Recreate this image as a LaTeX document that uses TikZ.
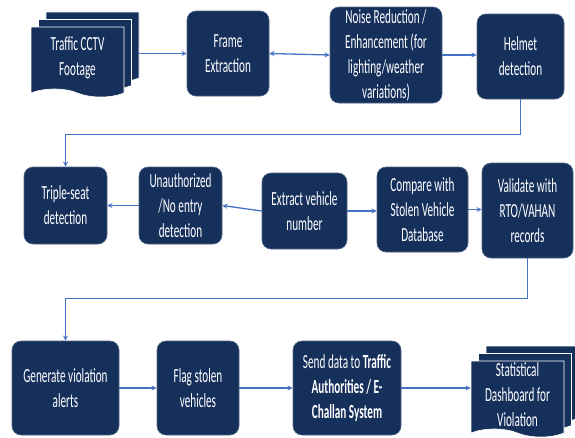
\documentclass[tikz,border=0pt]{standalone}
\usepackage{fontspec}
\setmainfont{Carlito}[FakeStretch=0.56]
\usetikzlibrary{shapes.symbols,shadows}
\definecolor{navy}{RGB}{22,48,92}
\definecolor{linkblue}{RGB}{68,114,196}

\begin{document}
\begin{tikzpicture}[
	x=1pt, y=-1pt,
	every node/.style={font=\fontsize{20}{25}\selectfont},
	procbox/.style={rectangle, rounded corners=9pt, fill=navy, draw=navy!75!white, line width=0.6pt, text=white, align=center, inner sep=0pt},
	docstack/.style={tape, tape bend top=none, tape bend bottom=out and in, tape bend height=8pt, fill=navy, draw=white, line width=0.6pt, text=white, align=center, inner sep=0pt,
		copy shadow={shadow xshift=15pt, shadow yshift=15pt, fill=navy, draw=white},
		copy shadow={shadow xshift=7.5pt, shadow yshift=7.5pt, fill=navy, draw=white}}
]
\useasboundingbox (0,0) rectangle (575,437);
\node[docstack, minimum width=93pt, minimum height=70pt] (cctv) at (77.5,58) {Traffic CCTV\\Footage};
\node[procbox, minimum width=82pt, minimum height=85pt] (frame) at (228,53.5) {Frame\\Extraction};
\node[procbox, minimum width=112pt, minimum height=96pt] (noise) at (386,55) {Noise Reduction /\\Enhancement (for\\lighting/weather\\variations)};
\node[procbox, minimum width=87pt, minimum height=85pt] (helmet) at (520.5,56.5) {Helmet\\detection};
\node[procbox, minimum width=83pt, minimum height=77pt] (triple) at (65.5,205.5) {Triple-seat\\detection};
\node[procbox, minimum width=83pt, minimum height=77pt] (unauth) at (180.5,205.5) {Unauthorized\\/No entry\\detection};
\node[procbox, minimum width=85pt, minimum height=76pt] (extract) at (304.5,211) {Extract vehicle\\number};
\node[procbox, minimum width=91pt, minimum height=85pt] (compare) at (422.5,209.5) {Compare with\\Stolen Vehicle\\Database};
\node[procbox, minimum width=91pt, minimum height=95pt] (validate) at (527.5,210.5) {Validate with\\RTO/VAHAN\\records};
\node[procbox, minimum width=107pt, minimum height=94pt] (generate) at (65.5,388) {Generate violation\\alerts};
\node[procbox, minimum width=82pt, minimum height=94pt] (flag) at (198,388) {Flag stolen\\vehicles};
\node[procbox, minimum width=108pt, minimum height=94pt] (send) at (347,388) {Send data to \textbf{Traffic}\\\textbf{Authorities / E-}\\\textbf{Challan System}};
\node[docstack, minimum width=93pt, minimum height=76pt] (stats) at (517.5,395) {Statistical\\Dashboard for\\Violation};
\begin{scope}[linkblue, line width=1.3pt, -stealth]
\draw[shorten <=15pt] (cctv.east |- frame.west) -- (frame.west);
\draw[stealth-stealth] (frame.east) -- (noise.west);
\draw (noise.east) -- (noise.east -| helmet.west);
\draw (helmet.south) -- ++(0,35) -| (triple.north);
\draw (unauth.west) -- (triple.east);
\draw (extract.west) -- (unauth.east);
\draw (extract.east) -- (extract.east -| compare.west);
\draw (compare.east) -- (compare.east -| validate.west);
\draw (validate.south) -- ++(0,40) -| (generate.north);
\draw (generate.east) -- (flag.west);
\draw (flag.east) -- (send.west);
\draw (send.east) -- (send.east -| stats.west);
\end{scope}
\end{tikzpicture}
\end{document}
